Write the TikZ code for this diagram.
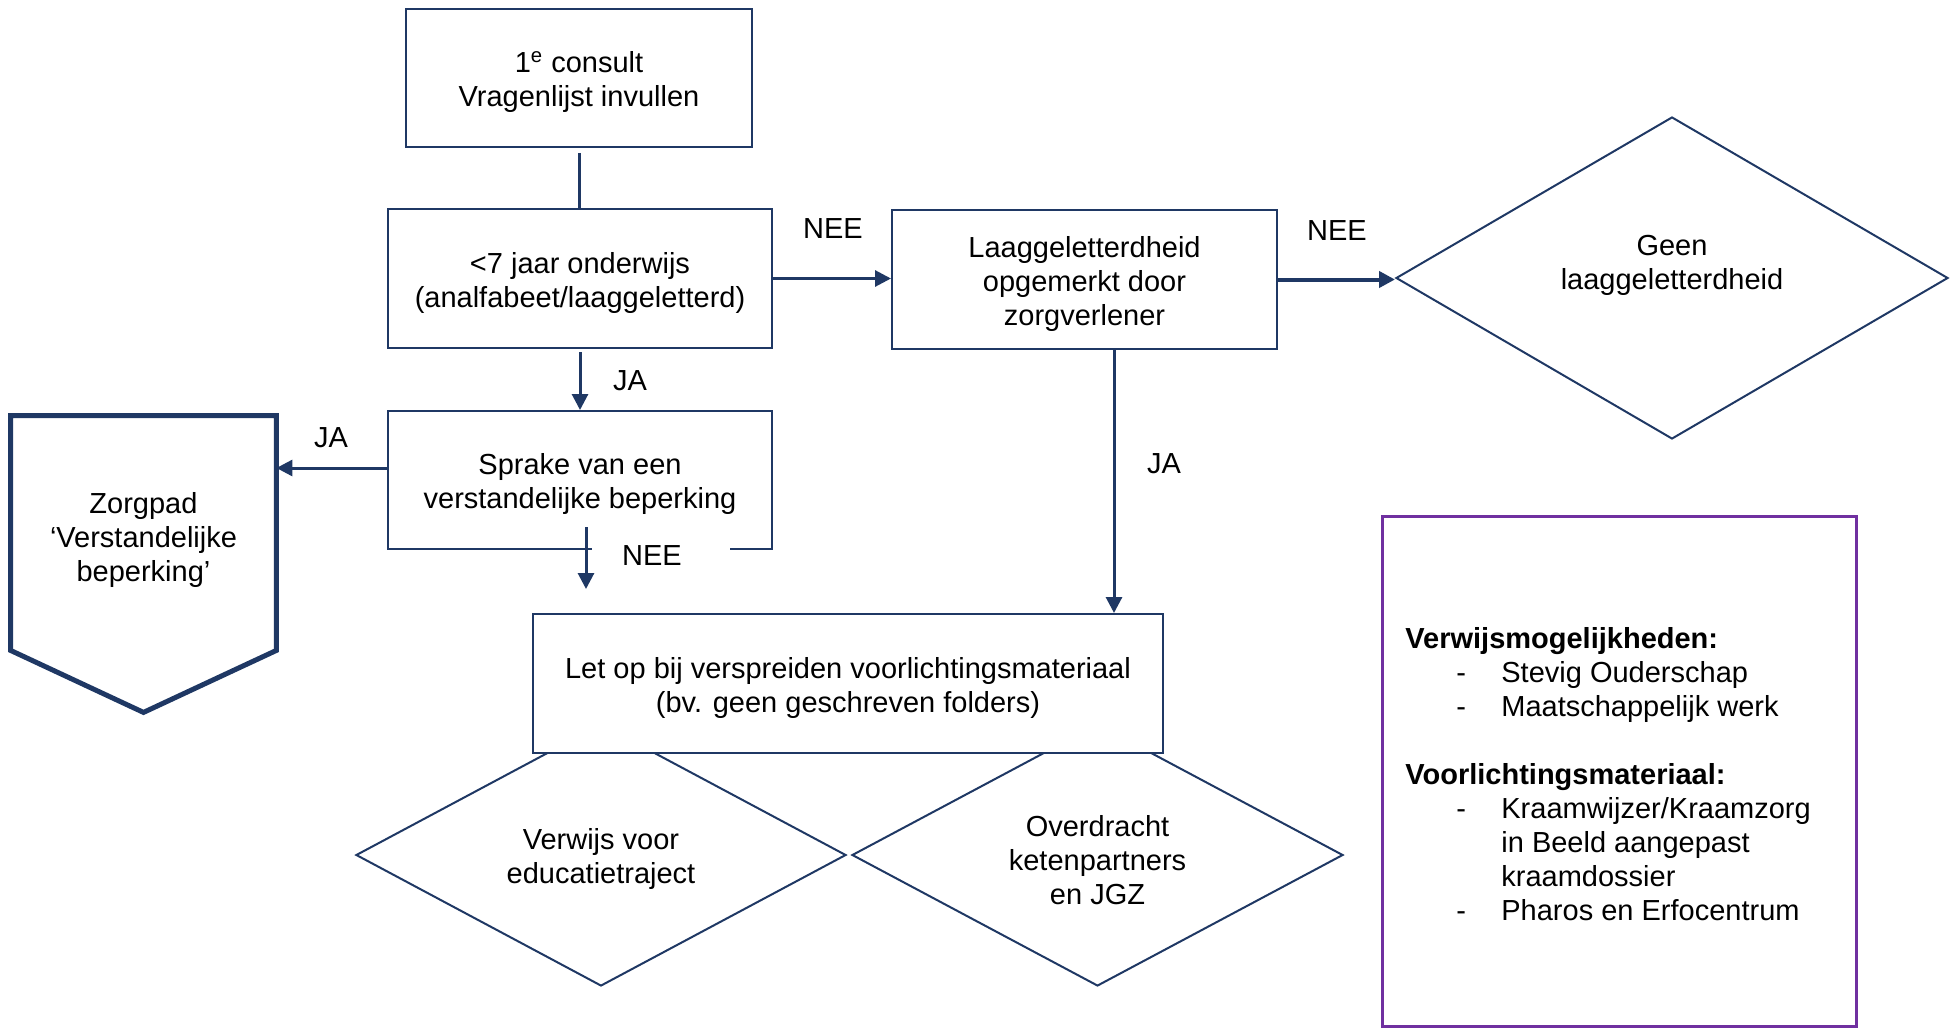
\documentclass[tikz,border=0pt]{standalone}
\usepackage{fontspec}
\setmainfont{Liberation Sans}
\usetikzlibrary{arrows.meta,shapes.geometric}
\definecolor{navy}{HTML}{1F3864}
\definecolor{paars}{HTML}{7030A0}
\newcommand{\topst}{\rule{0pt}{15pt}}
\begin{document}
\begin{tikzpicture}[x=0.5pt,y=-0.5pt,
  font=\fontsize{14.5pt}{17pt}\selectfont,
  box/.style={draw=navy, line width=1pt, fill=white, align=center, inner sep=0pt},
  ruit/.style={diamond, draw=navy, line width=1pt, inner sep=0pt},
  conn/.style={draw=navy, line width=1.5pt},
  arr/.style={conn, -{Triangle[length=8pt,width=8pt]}},
  lbl/.style={inner sep=0pt},
  txt/.style={align=center, inner sep=0pt}]
\useasboundingbox (0,0) rectangle (1952,1027);

% boxes
\node[box, minimum width=173pt, minimum height=69pt] (b1) at (579,78)
  {\topst 1\textsuperscript{e} consult\\Vragenlijst invullen};
\node[box, minimum width=192pt, minimum height=69.5pt] (b2) at (580,278.5)
  {\topst <7 jaar onderwijs\\(analfabeet/laaggeletterd)};
\node[box, minimum width=192pt, minimum height=69pt] (b3) at (580,480)
  {\topst Sprake van een\\verstandelijke beperking};
\node[box, minimum width=192.5pt, minimum height=69.5pt] (b5) at (1084.5,279.5)
  {\topst Laaggeletterdheid\\opgemerkt door\\zorgverlener};

% right diamond
\node[ruit, minimum width=276pt, minimum height=161pt] (geen) at (1672,278) {};
\node[txt] (geent) at (1672,265) {Geen\\laaggeletterdheid};

% bottom diamonds
\node[ruit, minimum width=245pt, minimum height=131pt] (d1) at (601,855) {};
\node[txt] (d1t) at (601,859) {Verwijs voor\\educatietraject};
\node[ruit, minimum width=245.5pt, minimum height=131pt] (d2) at (1097.5,855) {};
\node[txt] (d2t) at (1097.5,860) {Overdracht\\ketenpartners\\en JGZ};

\node[box, minimum width=315pt, minimum height=69.5pt] (b4) at (848,683.5)
  {\topst Let op bij verspreiden voorlichtingsmateriaal\\(bv. geen geschreven folders)};

% Zorgpad pentagon
\node[minimum width=132.5pt, minimum height=148pt, inner sep=0pt] (zp) at (143.5,564) {};
\draw[navy, line width=2.5pt]
  (zp.north west) -- (zp.north east) -- ([yshift=31pt]zp.south east)
  -- (zp.south) -- ([yshift=31pt]zp.south west) -- cycle;
\node[txt] (zpt) at (143.5,540) {Zorgpad\\‘Verstandelijke\\beperking’};

% info box
\node[draw=paars, line width=1.5pt, minimum width=237pt, minimum height=255pt, inner sep=0pt] (info) at (1619,771) {};
\node[anchor=north west, inner sep=0pt, align=left] (infot) at (1405,627)
  {\textbf{Verwijsmogelijkheden:}\\
   \hspace*{25.5pt}\makebox[22.5pt][l]{-}Stevig Ouderschap\\
   \hspace*{25.5pt}\makebox[22.5pt][l]{-}Maatschappelijk werk\\[17pt]
   \textbf{Voorlichtingsmateriaal:}\\
   \hspace*{25.5pt}\makebox[22.5pt][l]{-}Kraamwijzer/Kraamzorg\\
   \hspace*{48pt}in Beeld aangepast\\
   \hspace*{48pt}kraamdossier\\
   \hspace*{25.5pt}\makebox[22.5pt][l]{-}Pharos en Erfocentrum};

% labels
\node[lbl] (l1) at (833,229) {NEE};
\node[lbl] (l2) at (1337,231) {NEE};
\node[lbl] (l3) at (630,381) {JA};
\node[lbl] (l4) at (331,438) {JA};
\node[lbl] (l5) at (1164,464) {JA};
\fill[white] (592,542) rectangle (730,572);
\node[lbl] (l6) at (652,556) {NEE};

% connectors
\draw[conn] ([yshift=-2.5pt]b1.south) -- (b1.south |- b2.north);
\draw[arr] ([yshift=-1.5pt]b2.south) -- (b3.north);
\draw[arr] (b2.east) -- (b2.east -| b5.west);
\draw[arr, line width=2pt] (b5.east) -- (b5.east -| geen.west);
\coordinate (jx) at (1114,0);
\draw[arr] (b5.south -| jx) -- (b4.north -| jx);
\draw[arr] ([yshift=6pt]b3.west) -- ([yshift=6pt]b3.west -| zp.east);
\coordinate (neestart) at (586,527);
\coordinate (neeend) at (586,589);
\draw[arr] (neestart) -- (neeend);
\end{tikzpicture}
\end{document}
